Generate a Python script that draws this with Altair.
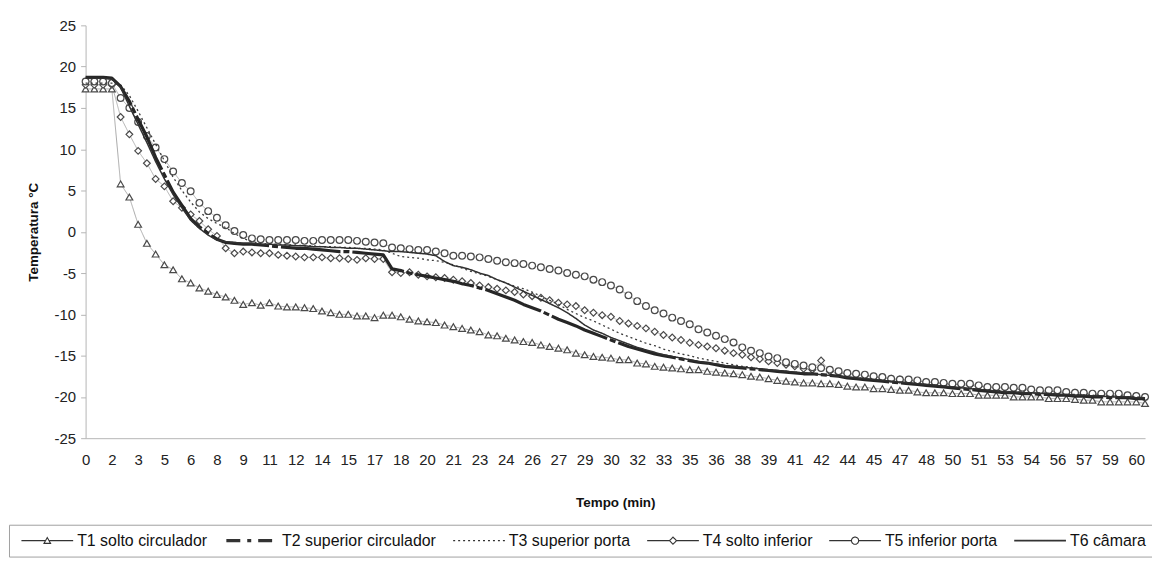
import altair as alt
import pandas as pd

tempo = [
    0, 0.5, 1, 1.5, 2, 2.5, 3, 3.5, 4, 4.5,
    5, 5.5, 6, 6.5, 7, 7.5, 8, 8.5, 9, 9.5,
    10, 10.5, 11, 11.5, 12, 12.5, 13, 13.5, 14, 14.5,
    15, 15.5, 16, 16.5, 17, 17.5, 18, 18.5, 19, 19.5,
    20, 20.5, 21, 21.5, 22, 22.5, 23, 23.5, 24, 24.5,
    25, 25.5, 26, 26.5, 27, 27.5, 28, 28.5, 29, 29.5,
    30, 30.5, 31, 31.5, 32, 32.5, 33, 33.5, 34, 34.5,
    35, 35.5, 36, 36.5, 37, 37.5, 38, 38.5, 39, 39.5,
    40, 40.5, 41, 41.5, 42, 42.5, 43, 43.5, 44, 44.5,
    45, 45.5, 46, 46.5, 47, 47.5, 48, 48.5, 49, 49.5,
    50, 50.5, 51, 51.5, 52, 52.5, 53, 53.5, 54, 54.5,
    55, 55.5, 56, 56.5, 57, 57.5, 58, 58.5, 59, 59.5,
    60, 60.5,
]

t1_solto_circulador = [
    17.3, 17.3, 17.3, 17.3, 5.8, 4.2, 0.9, -1.4, -2.7, -4.0,
    -4.6, -5.7, -6.2, -6.8, -7.2, -7.6, -7.9, -8.3, -8.8, -8.6,
    -8.9, -8.6, -9.0, -9.1, -9.1, -9.2, -9.3, -9.6, -9.8, -10.0,
    -10.0, -10.2, -10.2, -10.4, -10.1, -10.1, -10.3, -10.6, -10.8, -10.9,
    -11.0, -11.3, -11.5, -11.7, -11.9, -12.1, -12.5, -12.6, -12.9, -13.1,
    -13.3, -13.4, -13.7, -13.9, -14.1, -14.3, -14.7, -14.9, -15.1, -15.2,
    -15.3, -15.5, -15.5, -15.9, -16.0, -16.3, -16.4, -16.5, -16.6, -16.7,
    -16.7, -16.9, -17.0, -17.1, -17.2, -17.3, -17.5, -17.6, -17.8, -18.0,
    -18.1, -18.2, -18.3, -18.3, -18.4, -18.4, -18.5, -18.7, -18.8, -18.8,
    -19.0, -19.0, -19.1, -19.2, -19.2, -19.4, -19.5, -19.5, -19.5, -19.6,
    -19.6, -19.6, -19.8, -19.8, -19.8, -19.8, -20.0, -20.0, -20.0, -20.0,
    -20.2, -20.2, -20.2, -20.3, -20.4, -20.4, -20.6, -20.6, -20.6, -20.6,
    -20.6, -20.8,
]

t2_superior_circulador = [
    18.7, 18.7, 18.7, 18.6, 17.6, 15.8, 13.6, 11.5, 9.0, 6.9,
    4.8, 3.2, 1.6, 0.6, -0.2, -0.9, -1.3, -1.4, -1.5, -1.5,
    -1.6, -1.7, -1.8, -1.9, -2.0, -2.0, -2.1, -2.2, -2.3, -2.4,
    -2.4, -2.5, -2.6, -2.7, -2.8, -4.5, -4.7, -5.0, -5.2, -5.4,
    -5.6, -5.8, -6.0, -6.3, -6.5, -6.8, -7.1, -7.5, -7.9, -8.3,
    -8.8, -9.2, -9.6, -10.1, -10.6, -11.0, -11.4, -11.9, -12.3, -12.7,
    -13.1, -13.5, -13.9, -14.2, -14.5, -14.8, -15.0, -15.2, -15.4, -15.6,
    -15.8, -15.9, -16.1, -16.3, -16.4, -16.5, -16.6, -16.7, -16.8, -16.9,
    -17.0, -17.1, -17.2, -17.2, -17.3, -17.4, -17.5, -17.7, -17.8, -17.9,
    -18.0, -18.1, -18.2, -18.3, -18.4, -18.5, -18.6, -18.7, -18.8, -18.9,
    -19.0, -19.1, -19.2, -19.3, -19.4, -19.5, -19.5, -19.6, -19.6, -19.7,
    -19.7, -19.8, -19.8, -19.9, -19.9, -20.0, -20.0, -20.1, -20.1, -20.1,
    -20.2, -20.2,
]

t3_superior_porta = [
    18.0, 18.0, 18.0, 18.0, 17.8, 16.5, 14.6, 12.6, 10.6, 8.6,
    6.6, 5.0, 3.6, 2.4, 1.6, 1.0, 0.5, -0.2, -0.8, -1.2,
    -1.4, -1.5, -1.5, -1.6, -1.6, -1.7, -1.7, -1.8, -1.8, -1.9,
    -1.9, -2.0, -2.0, -2.1, -2.2, -2.6, -3.0, -3.1, -3.2, -3.4,
    -3.5, -3.7, -4.0, -4.4, -4.8, -5.1, -5.4, -5.8, -6.2, -6.6,
    -6.9, -7.3, -7.8, -8.3, -8.8, -9.4, -9.9, -10.4, -10.8, -11.3,
    -11.8, -12.3, -12.7, -13.1, -13.5, -13.8, -14.2, -14.5, -14.8, -15.0,
    -15.3, -15.5, -15.7, -15.9, -16.1, -16.3, -16.4, -16.6, -16.7, -16.8,
    -16.9, -17.0, -17.1, -17.2, -17.3, -17.4, -17.5, -17.6, -17.7, -17.8,
    -17.9, -18.0, -18.1, -18.2, -18.3, -18.4, -18.5, -18.6, -18.7, -18.8,
    -18.9, -19.0, -19.1, -19.1, -19.2, -19.3, -19.4, -19.4, -19.5, -19.5,
    -19.6, -19.6, -19.7, -19.7, -19.8, -19.8, -19.9, -19.9, -20.0, -20.0,
    -20.0, -20.1,
]

t4_solto_inferior = [
    17.8, 17.8, 17.8, 17.8, 13.9, 11.8, 9.8, 8.3, 6.4, 5.5,
    3.7, 2.9, 2.1, 1.3, 0.3, -0.5, -2.0, -2.6, -2.4, -2.5,
    -2.6, -2.6, -2.8, -2.9, -3.0, -3.1, -3.1, -3.1, -3.2, -3.2,
    -3.3, -3.4, -3.2, -3.3, -3.3, -4.9, -5.0, -4.9, -5.2, -5.4,
    -5.5, -5.6, -5.8, -6.0, -6.2, -6.5, -6.7, -6.9, -7.1, -7.3,
    -7.6, -7.8, -8.0, -8.3, -8.6, -8.8, -9.0, -9.5, -9.8, -10.1,
    -10.3, -10.8, -11.1, -11.4, -11.7, -12.1, -12.5, -12.8, -13.1, -13.45,
    -13.7, -13.9, -14.1, -14.4, -14.7, -14.9, -15.2, -15.4, -15.7, -15.9,
    -16.1, -16.3, -16.6, -16.7, -15.6, -16.9, -17.1, -17.2, -17.3, -17.4,
    -17.6, -17.7, -17.8, -17.9, -18.0, -18.1, -18.2, -18.3, -18.4, -18.5,
    -18.5, -18.6, -18.7, -18.8, -18.9, -18.9, -19.0, -19.1, -19.2, -19.3,
    -19.3, -19.4, -19.5, -19.5, -19.6, -19.7, -19.7, -19.8, -19.8, -19.9,
    -19.9, -20.0,
]

t5_inferior_porta = [
    18.2, 18.2, 18.2, 18.0, 16.2, 15.0, 13.3, 11.6, 10.2, 8.8,
    7.3, 5.9, 4.9, 3.5, 2.5, 1.7, 0.8, 0.1, -0.4, -0.8,
    -0.9, -1.0, -1.0, -1.0, -1.0, -1.1, -1.1, -1.0, -1.0, -1.0,
    -1.0, -1.1, -1.2, -1.3, -1.4, -1.9, -2.0, -2.1, -2.2, -2.2,
    -2.4, -2.6, -2.9, -2.9, -3.0, -3.1, -3.3, -3.5, -3.7, -3.8,
    -3.9, -4.1, -4.3, -4.5, -4.7, -5.0, -5.2, -5.4, -5.8, -6.1,
    -6.5, -7.0, -7.7, -8.4, -9.0, -9.5, -9.9, -10.4, -10.8, -11.2,
    -11.8, -12.2, -12.6, -13.0, -13.4, -14.0, -14.4, -14.7, -15.1, -15.3,
    -15.8, -16.0, -16.2, -16.4, -16.5, -16.7, -16.9, -17.1, -17.2, -17.3,
    -17.5, -17.6, -17.8, -17.9, -17.9, -18.0, -18.2, -18.2, -18.3, -18.4,
    -18.4, -18.4, -18.6, -18.8, -18.8, -18.8, -18.9, -18.9, -19.1, -19.2,
    -19.2, -19.2, -19.4, -19.5, -19.5, -19.6, -19.6, -19.6, -19.6, -19.8,
    -19.9, -20.0,
]

t6_camara = [
    18.6, 18.6, 18.6, 18.5, 17.5, 15.2, 13.0, 10.8, 8.5, 6.4,
    4.5, 2.9, 1.4, 0.4, -0.4, -1.0, -1.2, -1.3, -1.4, -1.4,
    -1.5, -1.5, -1.6, -1.6, -1.7, -1.7, -1.8, -1.8, -1.9, -1.9,
    -2.0, -2.0, -2.1, -2.2, -2.3, -2.4, -2.4, -2.5, -2.6, -2.7,
    -2.9, -3.6, -4.1, -4.3, -4.6, -5.0, -5.3, -5.8, -6.2, -6.7,
    -7.2, -7.7, -8.2, -8.7, -9.2, -9.8, -10.5, -11.3, -11.9, -12.3,
    -12.8, -13.2, -13.6, -14.0, -14.3, -14.6, -14.9, -15.1, -15.3, -15.5,
    -15.7, -15.9, -16.0, -16.2, -16.3, -16.4, -16.5, -16.6, -16.7, -16.8,
    -16.9, -17.0, -17.1, -17.2, -17.3, -17.4, -17.5, -17.6, -17.7, -17.8,
    -17.9, -18.0, -18.1, -18.2, -18.3, -18.4, -18.5, -18.6, -18.7, -18.8,
    -18.9, -19.0, -19.1, -19.2, -19.3, -19.4, -19.4, -19.5, -19.5, -19.6,
    -19.6, -19.7, -19.7, -19.8, -19.8, -19.9, -19.9, -20.0, -20.0, -20.0,
    -20.1, -20.1,
]

series_names = [
    "T1 solto circulador",
    "T2 superior circulador",
    "T3 superior porta",
    "T4 solto inferior",
    "T5 inferior porta",
    "T6 câmara",
]
series_values = [
    t1_solto_circulador,
    t2_superior_circulador,
    t3_superior_porta,
    t4_solto_inferior,
    t5_inferior_porta,
    t6_camara,
]

x_tick_values = [
    0, 1.5, 3, 4.5, 6, 7.5, 9, 10.5, 12, 13.5, 15, 16.5, 18, 19.5,
    21, 22.5, 24, 25.5, 27, 28.5, 30, 31.5, 33, 34.5, 36, 37.5, 39,
    40.5, 42, 43.5, 45, 46.5, 48, 49.5, 51, 52.5, 54, 55.5, 57, 58.5, 60,
]
y_tick_values = [-25, -20, -15, -10, -5, 0, 5, 10, 15, 20, 25]

rows = []
for name, vals in zip(series_names, series_values):
    assert len(vals) == len(tempo), name
    for t, v in zip(tempo, vals):
        rows.append({"tempo": t, "serie": name, "temp": v})
df = pd.DataFrame(rows)

FONT = "Liberation Sans"
AXIS_GRAY = "#b5b5b5"

x_enc = alt.X(
    "tempo:Q",
    scale=alt.Scale(domain=[0, 60.5], nice=False, zero=False),
    axis=alt.Axis(
        values=x_tick_values,
        labelExpr="format(round(datum.value), 'd')",
        ticks=False,
        grid=False,
        domainColor=AXIS_GRAY,
        labelFont=FONT,
        labelFontSize=15,
        labelColor="#222222",
        labelPadding=14,
        labelOverlap=False,
        labelFlush=False,
        labelBound=False,
        title="Tempo (min)",
        titleFont=FONT,
        titleFontSize=13.5,
        titleFontWeight="bold",
        titleColor="#111111",
        titlePadding=29,
    ),
)
y_enc = alt.Y(
    "temp:Q",
    scale=alt.Scale(domain=[-25, 25], nice=False, zero=False),
    axis=alt.Axis(
        values=y_tick_values,
        labelExpr="'' + datum.value",
        grid=False,
        domainColor=AXIS_GRAY,
        tickColor=AXIS_GRAY,
        tickSize=5,
        labelFont=FONT,
        labelFontSize=15,
        labelColor="#222222",
        labelPadding=5,
        title="Temperatura °C",
        titleFont=FONT,
        titleFontSize=13.5,
        titleFontWeight="bold",
        titleColor="#111111",
        titlePadding=14,
    ),
)

K = "substring(datum.value,0,2)"
TRI = "M-5.2,0H-0.45M0.45,0H5.2M0,-0.62L0.66,0.55L-0.66,0.55Z"
DIA = "M-5.2,0H-0.7M0.7,0H5.2M0,-0.72L0.7,0L0,0.72L-0.7,0Z"
CIR = "M-5.2,0H-0.72M0.72,0H5.2M0.72,0A0.72,0.72,0,1,1,-0.72,0A0.72,0.72,0,1,1,0.72,0Z"
LIN = "M-5.2,0H5.2"

legend = alt.Legend(
    title=None,
    orient="none",
    legendX=-77,
    legendY=502,
    direction="horizontal",
    columns=6,
    symbolSize=100,
    symbolOffset=22.5,
    labelOffset=22,
    columnPadding=12,
    padding=8,
    strokeColor="#a0a0a0",
    fillColor="#ffffff",
    labelFont=FONT,
    labelFontSize=16,
    labelColor="#111111",
    labelLimit=400,
    symbolType=alt.ExprRef(
        expr=f"({K}=='T1' ? '{TRI}' : {K}=='T4' ? '{DIA}' : {K}=='T5' ? '{CIR}' : '{LIN}')"
    ),
    symbolStrokeWidth=alt.ExprRef(
        expr=f"({K}=='T2' ? 3.2 : {K}=='T6' ? 1.6 : 1.1)"
    ),
    symbolStrokeColor="#333333",
    symbolFillColor="#ffffff",
)

stroke_dash = alt.StrokeDash(
    "serie:N",
    scale=alt.Scale(
        domain=series_names,
        range=[[1, 0], [14, 7, 4, 7], [2, 3], [1, 0], [1, 0], [1, 0]],
    ),
    legend=legend,
)

line_styles = {
    series_names[0]: {"color": "#a8a8a8", "strokeWidth": 1.0},
    series_names[1]: {"color": "#262626", "strokeWidth": 3.2},
    series_names[2]: {"color": "#3c3c3c", "strokeWidth": 1.3},
    series_names[3]: {"color": "#b0b0b0", "strokeWidth": 1.0},
    series_names[4]: {"color": "#b0b0b0", "strokeWidth": 1.0},
    series_names[5]: {"color": "#303030", "strokeWidth": 1.5},
}

base = alt.Chart(df)


def line_layer(name, use_dash_scale=True, dash=None):
    st = line_styles[name]
    mark_kwargs = dict(color=st["color"], strokeWidth=st["strokeWidth"], strokeJoin="round")
    if dash is not None:
        mark_kwargs["strokeDash"] = dash
    enc = dict(x=x_enc, y=y_enc)
    if use_dash_scale:
        enc["strokeDash"] = stroke_dash
    return base.transform_filter(
        alt.FieldEqualPredicate(field="serie", equal=name)
    ).mark_line(**mark_kwargs).encode(**enc)


marker_series = [series_names[0], series_names[3], series_names[4]]

points = base.transform_filter(
    alt.FieldOneOfPredicate(field="serie", oneOf=marker_series)
).mark_point(filled=True, fill="#ffffff", stroke="#4a4a4a", strokeWidth=1.2, opacity=1).encode(
    x=x_enc,
    y=y_enc,
    shape=alt.Shape(
        "serie:N",
        scale=alt.Scale(domain=marker_series, range=["triangle-up", "diamond", "circle"]),
        legend=None,
    ),
    size=alt.value(46),
)

chart = (
    alt.layer(
        line_layer(series_names[0]),
        line_layer(series_names[3]),
        line_layer(series_names[4]),
        points,
        line_layer(series_names[2]),
        line_layer(series_names[1], use_dash_scale=False, dash=[60, 3, 6, 3]),
        line_layer(series_names[5]),
    )
    .properties(
        width=1065,
        height=415,
        padding={"left": 78, "top": 16, "right": 7, "bottom": 120},
        autosize=alt.AutoSizeParams(type="none"),
        background="#ffffff",
    )
    .configure_view(stroke=None)
)

chart.save("out.html", embed_options={"renderer": "svg", "actions": False})
